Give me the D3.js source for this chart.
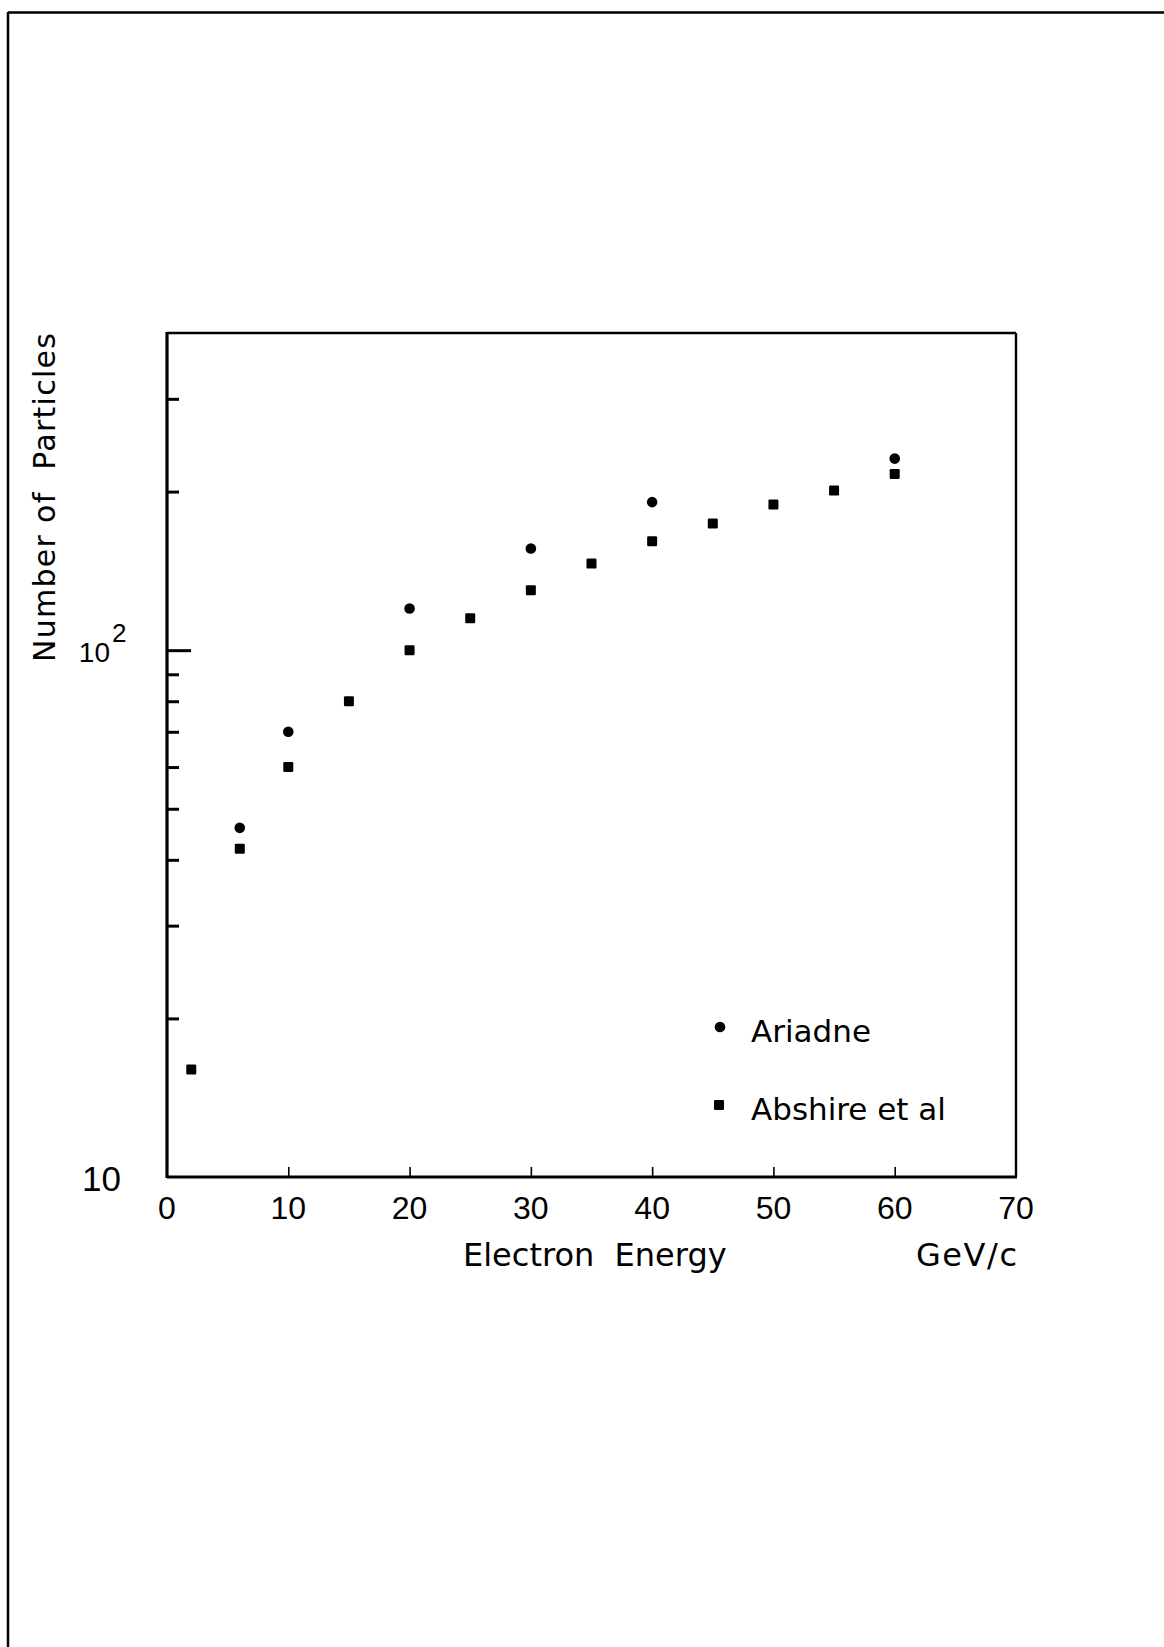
<!DOCTYPE html>
<html>
<head>
<meta charset="utf-8">
<script src="https://cdn.jsdelivr.net/npm/d3@7"></script>
<style>
  html, body { margin: 0; padding: 0; background: #fff; }
  svg { display: block; }
  text { white-space: pre; fill: #000; }
</style>
</head>
<body>
<svg id="chart" width="1164" height="1647"></svg>
<script>
// ---- data ----
const ariadneEnergy = [6, 10, 20, 30, 40, 60];
const ariadneCount  = [46, 70, 120, 156, 191, 231];
const abshireEnergy = [2, 6, 10, 15, 20, 25, 30, 35, 40, 45, 50, 55, 60];
const abshireCount  = [16, 42, 60, 80, 100, 115, 130, 146, 161, 174, 189, 201, 216];
const xTickLabels = [0, 10, 20, 30, 40, 50, 60, 70];
const xMinorTicks = [10, 20, 30, 40, 50, 60];
const yMinorTicks = [20, 30, 40, 50, 60, 70, 80, 90, 200, 300];
const yMajorTicks = [100];
const legendNames = ["Ariadne", "Abshire et al"];

// ---- layout ----
const L = 167, R = 1016, T = 333, B = 1177;
const svg = d3.select("#chart");
const x = d3.scaleLinear().domain([0, 70]).range([L, R]);
const y = d3.scaleLog().domain([10, 400]).range([B, T]);

// page border (left & top)
svg.append("line").attr("x1", 8).attr("y1", 12.5).attr("x2", 1164).attr("y2", 12.5)
  .attr("stroke", "#000").attr("stroke-width", 2.5);
svg.append("line").attr("x1", 8).attr("y1", 12).attr("x2", 8).attr("y2", 1647)
  .attr("stroke", "#000").attr("stroke-width", 2.5);

// y ticks (inward)
const yMinorAxis = d3.axisLeft(y).tickValues(yMinorTicks).tickSize(-12).tickFormat("");
const gy1 = svg.append("g").attr("transform", `translate(${L},0)`).call(yMinorAxis);
const yMajorAxis = d3.axisLeft(y).tickValues(yMajorTicks).tickSize(-24).tickFormat("");
const gy2 = svg.append("g").attr("transform", `translate(${L},0)`).call(yMajorAxis);
[gy1, gy2].forEach(g => {
  g.select(".domain").remove();
  g.selectAll(".tick line").attr("stroke", "#000").attr("stroke-width", 3);
});

// x ticks (inward)
const xAxis = d3.axisBottom(x).tickValues(xMinorTicks).tickSize(-10).tickFormat("");
const gx = svg.append("g").attr("transform", `translate(0,${B})`).call(xAxis);
gx.select(".domain").remove();
gx.selectAll(".tick line").attr("stroke", "#000").attr("stroke-width", 1.6);

// frame
svg.append("line").attr("x1", L).attr("y1", T).attr("x2", R).attr("y2", T).attr("stroke", "#000").attr("stroke-width", 2.4);
svg.append("line").attr("x1", R).attr("y1", T).attr("x2", R).attr("y2", B).attr("stroke", "#000").attr("stroke-width", 2.4);
svg.append("line").attr("x1", L).attr("y1", B).attr("x2", R + 1).attr("y2", B).attr("stroke", "#000").attr("stroke-width", 3.2);
svg.append("line").attr("x1", L).attr("y1", T - 1).attr("x2", L).attr("y2", B + 1).attr("stroke", "#000").attr("stroke-width", 3.2);

// x tick labels
svg.append("g").selectAll("text").data(xTickLabels).join("text")
  .attr("x", d => x(d)).attr("y", 1219)
  .attr("text-anchor", "middle")
  .attr("font-family", "Liberation Sans, Arial, sans-serif")
  .attr("font-size", 32)
  .text(d => d);

// y tick labels
svg.append("text").attr("x", 121).attr("y", 1191)
  .attr("text-anchor", "end")
  .attr("font-family", "Liberation Sans, Arial, sans-serif")
  .attr("font-size", 35).text("10");
svg.append("text").attr("x", 110).attr("y", y(100) + 12)
  .attr("text-anchor", "end")
  .attr("font-family", "Liberation Sans, Arial, sans-serif")
  .attr("font-size", 28)
  .text("10");
svg.append("text").attr("x", 112).attr("y", y(100) - 8)
  .attr("font-family", "Liberation Sans, Arial, sans-serif")
  .attr("font-size", 26)
  .text("2");

// axis titles
svg.append("text").attr("x", 463).attr("y", 1266)
  .attr("font-family", "DejaVu Sans, sans-serif").attr("font-size", 32)
  .text("Electron  Energy");
svg.append("text").attr("x", 1017).attr("y", 1266)
  .attr("text-anchor", "end")
  .attr("font-family", "DejaVu Sans, sans-serif").attr("font-size", 32)
  .attr("textLength", 101).attr("lengthAdjust", "spacing")
  .text("GeV/c");
svg.append("text")
  .attr("transform", `translate(55,${(333 + 662) / 2}) rotate(-90)`)
  .attr("text-anchor", "middle")
  .attr("font-family", "DejaVu Sans, sans-serif").attr("font-size", 30)
  .attr("textLength", 329).attr("lengthAdjust", "spacing")
  .text("Number of  Particles");

// data points
const ariadne = ariadneEnergy.map((e, i) => ({ e, n: ariadneCount[i] }));
const abshire = abshireEnergy.map((e, i) => ({ e, n: abshireCount[i] }));
svg.append("g").selectAll("circle").data(ariadne).join("circle")
  .attr("cx", d => x(d.e)).attr("cy", d => y(d.n)).attr("r", 5.3).attr("fill", "#000");
const sq = 10;
svg.append("g").selectAll("rect").data(abshire).join("rect")
  .attr("x", d => x(d.e) - sq / 2).attr("y", d => y(d.n) - sq / 2)
  .attr("width", sq).attr("height", sq).attr("rx", 1.2).attr("fill", "#000");

// legend
svg.append("circle").attr("cx", 720).attr("cy", 1027).attr("r", 5.3).attr("fill", "#000");
svg.append("rect").attr("x", 714).attr("y", 1100).attr("width", sq).attr("height", sq).attr("rx", 1.2).attr("fill", "#000");
svg.append("g").selectAll("text").data(legendNames).join("text")
  .attr("x", 751).attr("y", (d, i) => i === 0 ? 1042 : 1120)
  .attr("font-family", "DejaVu Sans, sans-serif").attr("font-size", 31)
  .text(d => d);
</script>
</body>
</html>
